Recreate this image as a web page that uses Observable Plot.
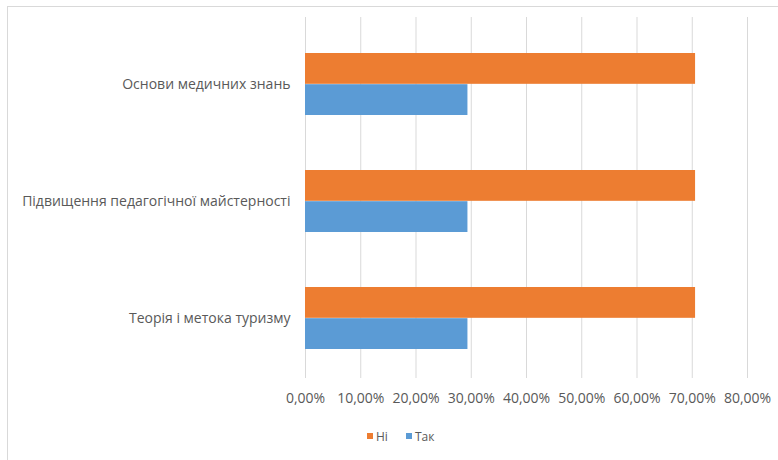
<!DOCTYPE html>
<html>
<head>
<meta charset="utf-8">
<script src="https://cdn.jsdelivr.net/npm/d3@7"></script>
<script src="https://cdn.jsdelivr.net/npm/@observablehq/plot@0.6"></script>
<style>
  html, body { margin: 0; padding: 0; background: #fff; width: 778px; height: 460px; overflow: hidden; }
  #frame { position: absolute; left: 7px; top: 6px; width: 800px; height: 470px; border: 1px solid #d9d9d9; box-sizing: border-box; }
  #chart { position: absolute; left: 0; top: 0; }
  #legend { position: absolute; left: 367px; top: 427px; height: 18px; font-family: "Open Sans", sans-serif; font-size: 12px; color: #595959; }
  #legend div { margin: 0 !important; min-height: 18px !important; align-items: center; }
  #legend span { margin-right: 18px !important; }
  #legend svg { margin-right: 3px !important; }
</style>
</head>
<body>
<div id="frame"></div>
<div id="chart"></div>
<div id="legend"></div>
<script>
const categories = ["Основи медичних знань", "Підвищення педагогічної майстерності", "Теорія і метока туризму"];
const series = ["Ні", "Так"];
const niValues = [70.6, 70.6, 70.6];
const takValues = [29.4, 29.4, 29.4];
const xTicks = [0, 10, 20, 30, 40, 50, 60, 70, 80];
const colors = ["#ED7D31", "#5B9BD5"];

const niData = categories.map((c, i) => ({category: c, series: series[0], value: niValues[i]}));
const takData = categories.map((c, i) => ({category: c, series: series[1], value: takValues[i]}));

const fmt = d => d.toFixed(2).replace(".", ",") + "%";

const padInner = 0.47;
const marginTop = 17, rangeTop = 25, rangeBottom = 378;
const step = (rangeBottom - rangeTop) / categories.length;
const half = step * (1 - padInner) / 2;

const chart = Plot.plot({
  width: 778,
  height: 418,
  marginLeft: 305,
  marginRight: 31,
  marginTop: marginTop,
  marginBottom: 418 - rangeBottom,
  style: { fontFamily: "Open Sans, sans-serif", fontSize: "14px", color: "#595959", background: "transparent" },
  x: { domain: [0, 80], label: null },
  y: { domain: categories, paddingInner: padInner, paddingOuter: padInner / 2, align: 0.5, insetTop: rangeTop - marginTop, label: null },
  color: { domain: series, range: colors },
  marks: [
    Plot.gridX(xTicks, { stroke: "#d9d9d9", strokeOpacity: 1 }),
    Plot.barX(niData, { y: "category", x: "value", fill: "series", insetBottom: half }),
    Plot.barX(takData, { y: "category", x: "value", fill: "series", insetTop: half }),
    Plot.axisX({ ticks: xTicks, tickFormat: fmt, tickSize: 0, tickPadding: 15, label: null, fontSize: 14 }),
    Plot.axisY({ tickSize: 0, tickPadding: 15, label: null, fontSize: 14 })
  ]
});
document.getElementById("chart").appendChild(chart);

const leg = Plot.legend({
  color: { domain: series, range: colors },
  swatchSize: 6,
  style: { fontFamily: "Open Sans, sans-serif", fontSize: "12px", color: "#595959" }
});
document.getElementById("legend").appendChild(leg);
</script>
</body>
</html>
